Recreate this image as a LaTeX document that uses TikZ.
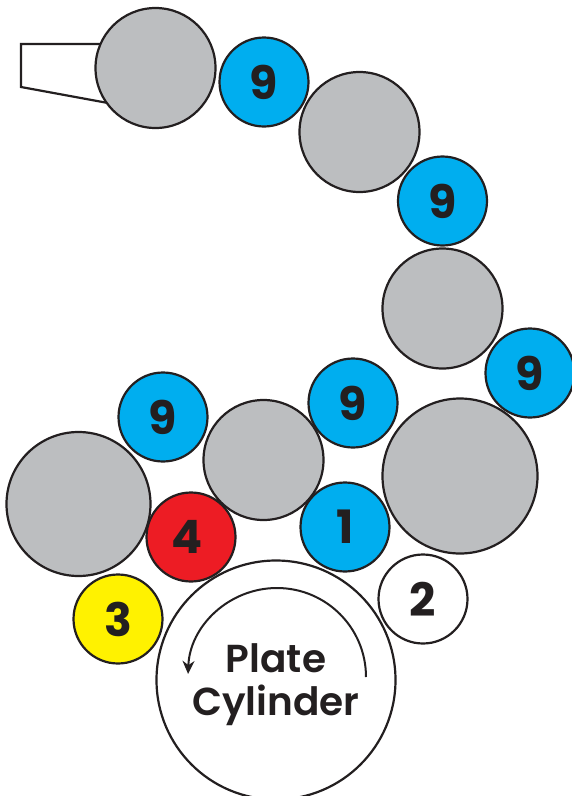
\documentclass[tikz,border=0pt]{standalone}
\usetikzlibrary{arrows.meta}
\usepackage{fontspec}
\newfontfamily\lblfont{Poppins SemiBold}
\newfontfamily\numfont{Poppins Bold}
\definecolor{rollgray}{HTML}{BCBEC0}
\definecolor{rollblue}{HTML}{00AEEF}
\definecolor{rollred}{HTML}{ED1C24}
\definecolor{rollyellow}{HTML}{FFF200}
\definecolor{inkc}{HTML}{231F20}
\begin{document}
\begin{tikzpicture}[x=1pt,y=-1pt,
  roll/.style={circle,draw=inkc,line width=2.2pt,inner sep=0pt,font=\numfont\fontsize{46}{46}\selectfont,text=inkc},
  gray roll/.style={roll,fill=rollgray},
  small roll/.style={roll,minimum size=89pt}]
\useasboundingbox (0,0) rectangle (571,796);
\coordinate (d1) at (103,44);
\coordinate (d2) at (21,44);
\coordinate (d3) at (21,87);
\coordinate (d4) at (108,103);
\draw[inkc,line width=2.2pt] (d1)--(d2)--(d3)--(d4);
\node[gray roll,minimum size=120pt] (g1) at (155.5,68) {};
\node[gray roll,minimum size=120pt] (g2) at (359.5,132) {};
\node[gray roll,minimum size=120pt] (g3) at (442.5,308.5) {};
\node[gray roll,minimum size=155pt] (g4) at (460,476) {};
\node[gray roll,minimum size=120pt] (g5) at (263.5,460) {};
\node[gray roll,minimum size=144pt] (g6) at (78.5,504) {};
\node[small roll,fill=rollblue] (b1) at (264,82) {9};
\node[small roll,fill=rollblue] (b2) at (442.5,201) {9};
\node[small roll,fill=rollblue] (b3) at (530,373) {9};
\node[small roll,fill=rollblue] (b4) at (353,403) {9};
\node[small roll,fill=rollblue] (b5) at (163,417) {9};
\node[small roll,fill=rollblue] (b6) at (345,527) {1};
\node[small roll,fill=rollred] (r) at (191,537) {\kern-8pt 4};
\node[small roll,fill=rollyellow] (y) at (118,619) {3};
\node[small roll,fill=white] (w) at (423,599) {2};
\node[roll,fill=white,minimum size=239pt] (pc) at (276,680) {};
\node[align=center,text=inkc,font=\lblfont\fontsize{39}{43}\selectfont] (t) at (276,685) {Plate\\Cylinder};
\draw[inkc,line width=2pt,-{Stealth[length=13pt,width=12pt]}] (366,677) arc[start angle=0,end angle=178,radius=89pt];
\end{tikzpicture}
\end{document}
